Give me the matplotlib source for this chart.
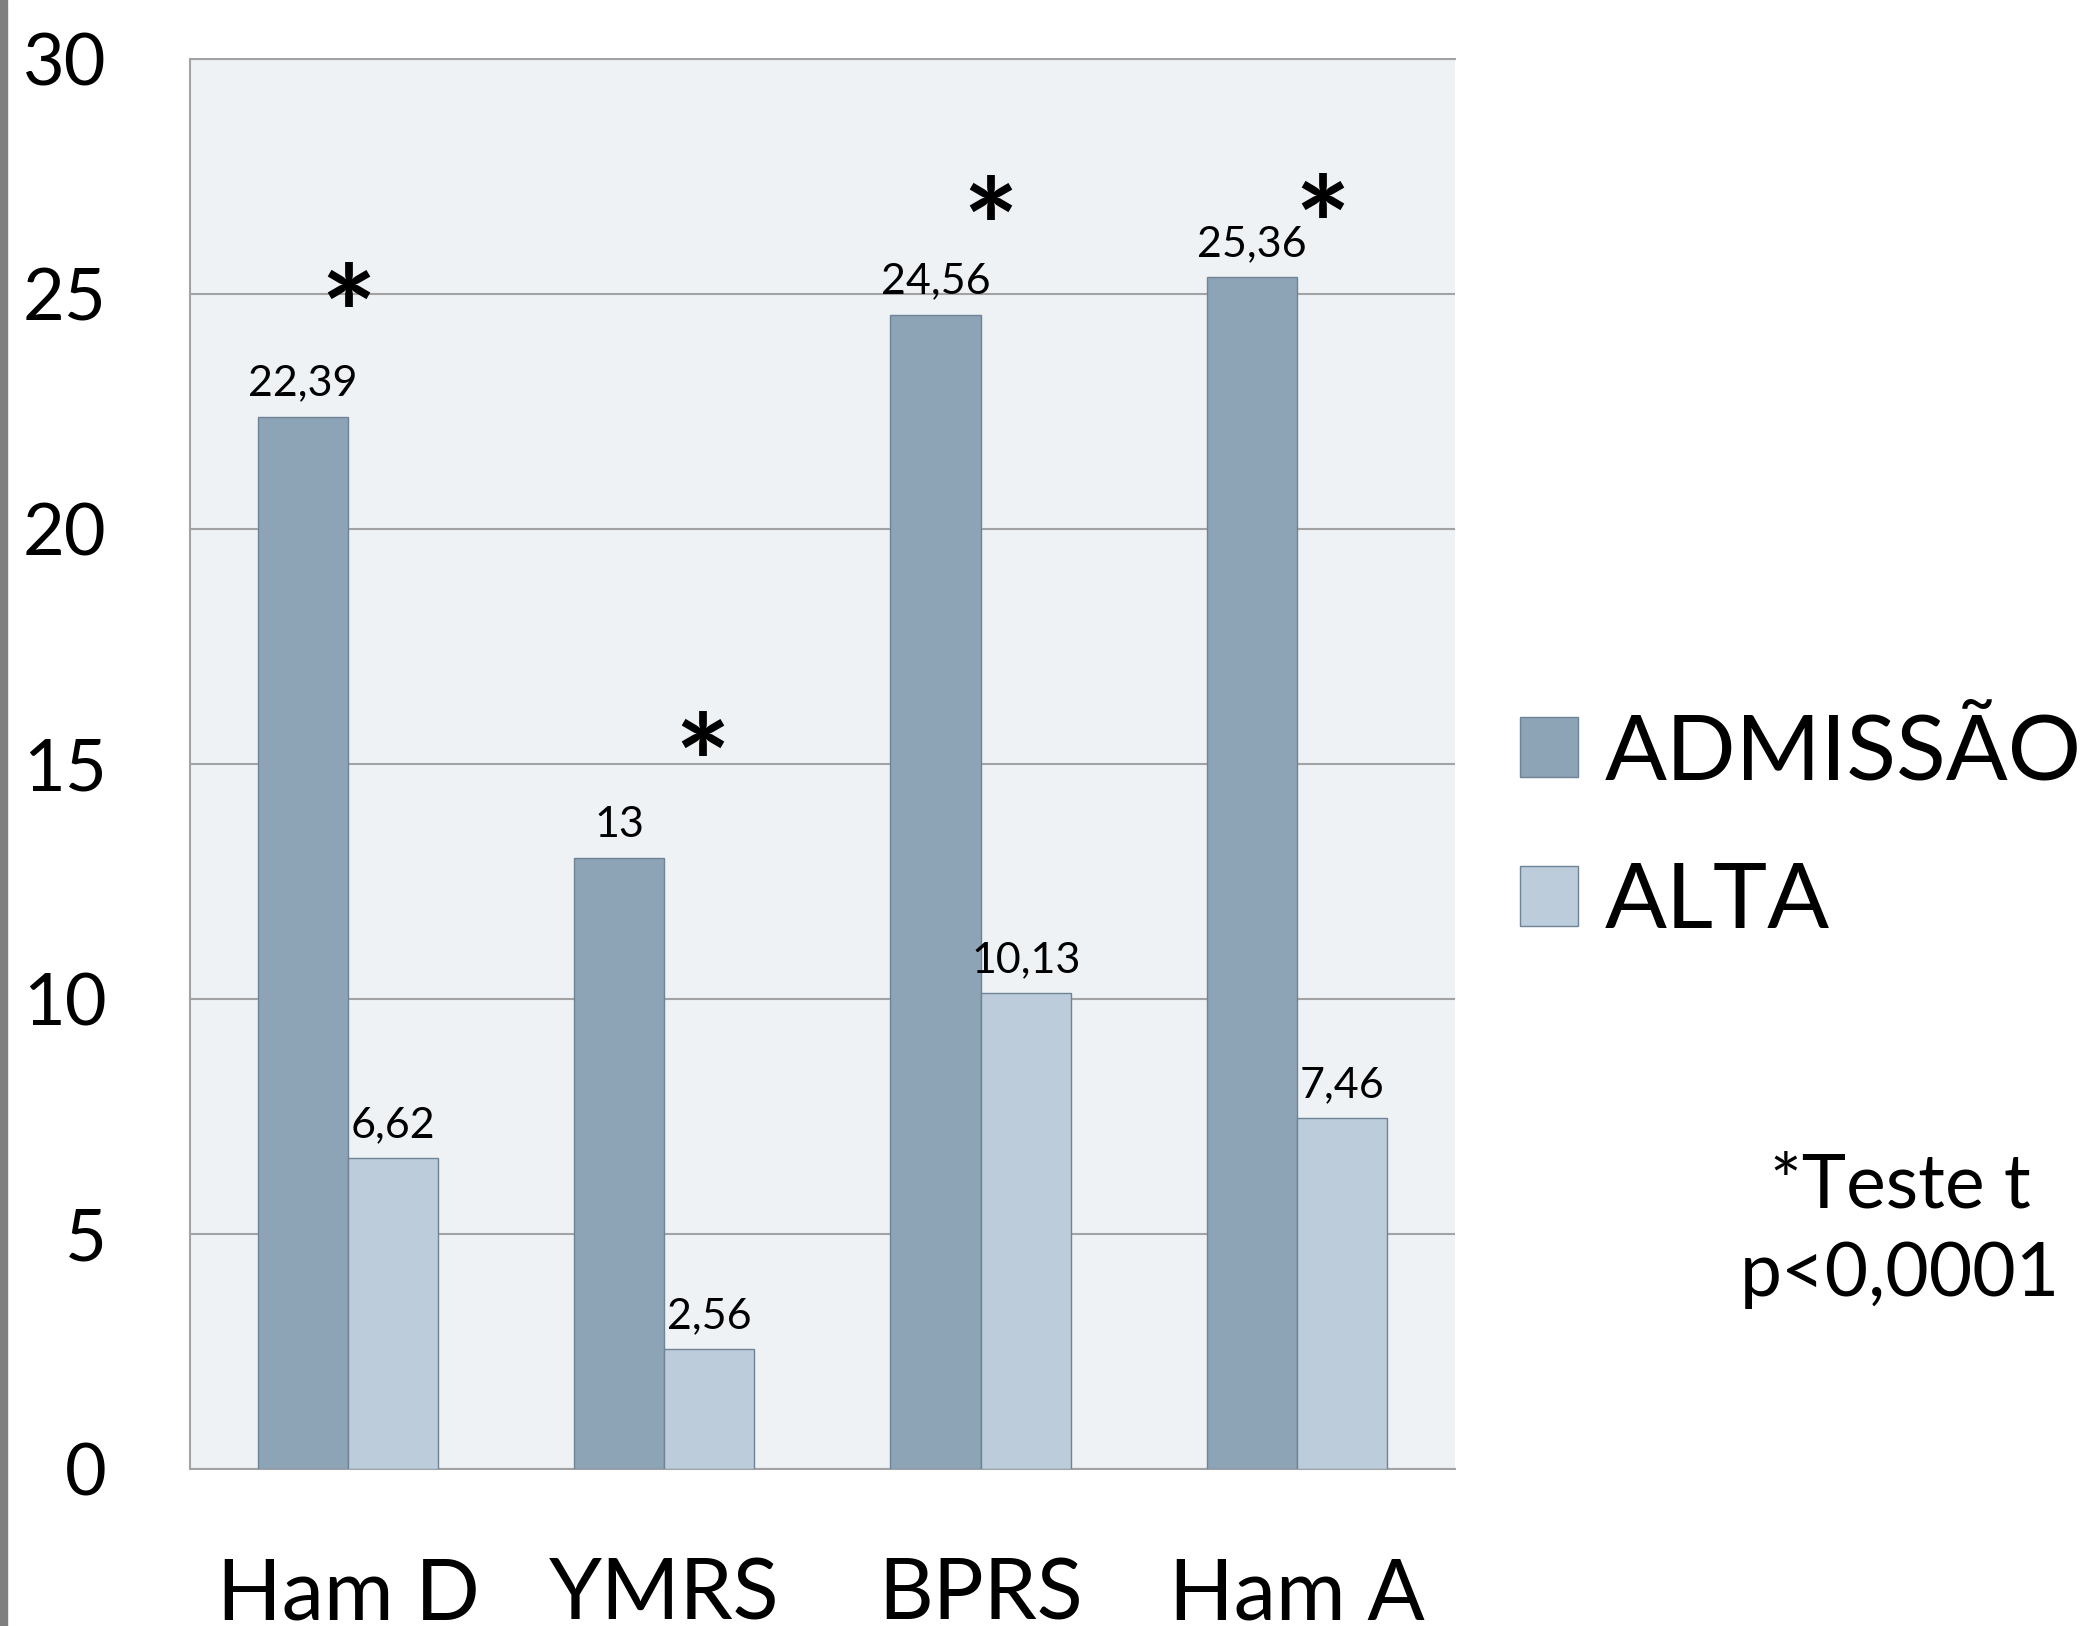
import numpy as np
import matplotlib as mpl
import matplotlib.pyplot as plt
from matplotlib.patches import Rectangle

mpl.rcParams['font.family'] = ['Lato', 'DejaVu Sans']

# data
escalas = ['Ham D', 'YMRS', 'BPRS', 'Ham A']
admissao = [22.39, 13, 24.56, 25.36]
alta = [6.62, 2.56, 10.13, 7.46]
# asterisks (significance marks): x offset from group centre, height
sig_dx = [0.0, 0.12, 0.03, 0.08]
sig_y = [25.15, 15.6, 27.0, 27.05]
nota = '*Teste t\np<0,0001'

cor_adm = '#8DA3B6'
cor_alta = '#BCCCDB'
cor_borda = '#6F8396'
cor_fundo = '#EEF2F5'
cor_grade = '#A3A3A3'

fig = plt.figure(figsize=(20.87, 16.26), dpi=100)
ax = fig.add_axes([0.0910, 0.0966, 0.6062, 0.8672])
ax.set_facecolor(cor_fundo)

# grey strip on the left edge of the slide
fig.patches.append(Rectangle((0, 0), 7 / 2087, 1, transform=fig.transFigure,
                             color='#7F7F7F', zorder=0))

x = np.arange(len(escalas))
w = 0.285
b1 = ax.bar(x - w / 2, admissao, w, color=cor_adm, edgecolor=cor_borda,
            linewidth=1, label='ADMISSÃO', zorder=3)
b2 = ax.bar(x + w / 2, alta, w, color=cor_alta, edgecolor=cor_borda,
            linewidth=1, label='ALTA', zorder=3)

def fmt(v):
    return f'{v:g}'.replace('.', ',')

ax.bar_label(b1, labels=[fmt(v) for v in admissao], padding=10, fontsize=31)
ax.bar_label(b2, labels=[fmt(v) for v in alta], padding=10, fontsize=31)

# the '*' ink sits high in its box, so nudge it down a bit
for i in range(len(escalas)):
    ax.annotate('*', (x[i] + sig_dx[i], sig_y[i]), xytext=(0, -27),
                textcoords='offset points', ha='center', va='center',
                fontsize=95, fontweight='bold', zorder=4)

ax.set_xlim(-0.5, 3.5)
ax.set_ylim(0, 30)
ax.set_yticks(range(0, 31, 5))
ax.set_xticks(x)
ax.set_xticklabels(escalas, fontsize=61)
ax.tick_params(axis='y', length=0, pad=60, labelsize=52)
ax.tick_params(axis='x', length=0, pad=63)
ax.yaxis.grid(True, color=cor_grade, linewidth=1.5)
ax.set_axisbelow(True)
ax.spines['right'].set_visible(False)
for s in ['left', 'bottom', 'top']:
    ax.spines[s].set_color(cor_grade)
    ax.spines[s].set_linewidth(1.5)

ax.legend(loc='center left', bbox_to_anchor=(0.7283, 0.4905),
          bbox_transform=fig.transFigure, frameon=False, fontsize=66,
          handlelength=0.63, handleheight=0.63, handletextpad=0.3,
          labelspacing=0.72, borderpad=0, borderaxespad=0)

fig.text(1900 / 2087, 0.2435, nota, ha='center', va='center',
         fontsize=54, linespacing=1.35, multialignment='center')

fig.savefig('out.png', dpi=100)
